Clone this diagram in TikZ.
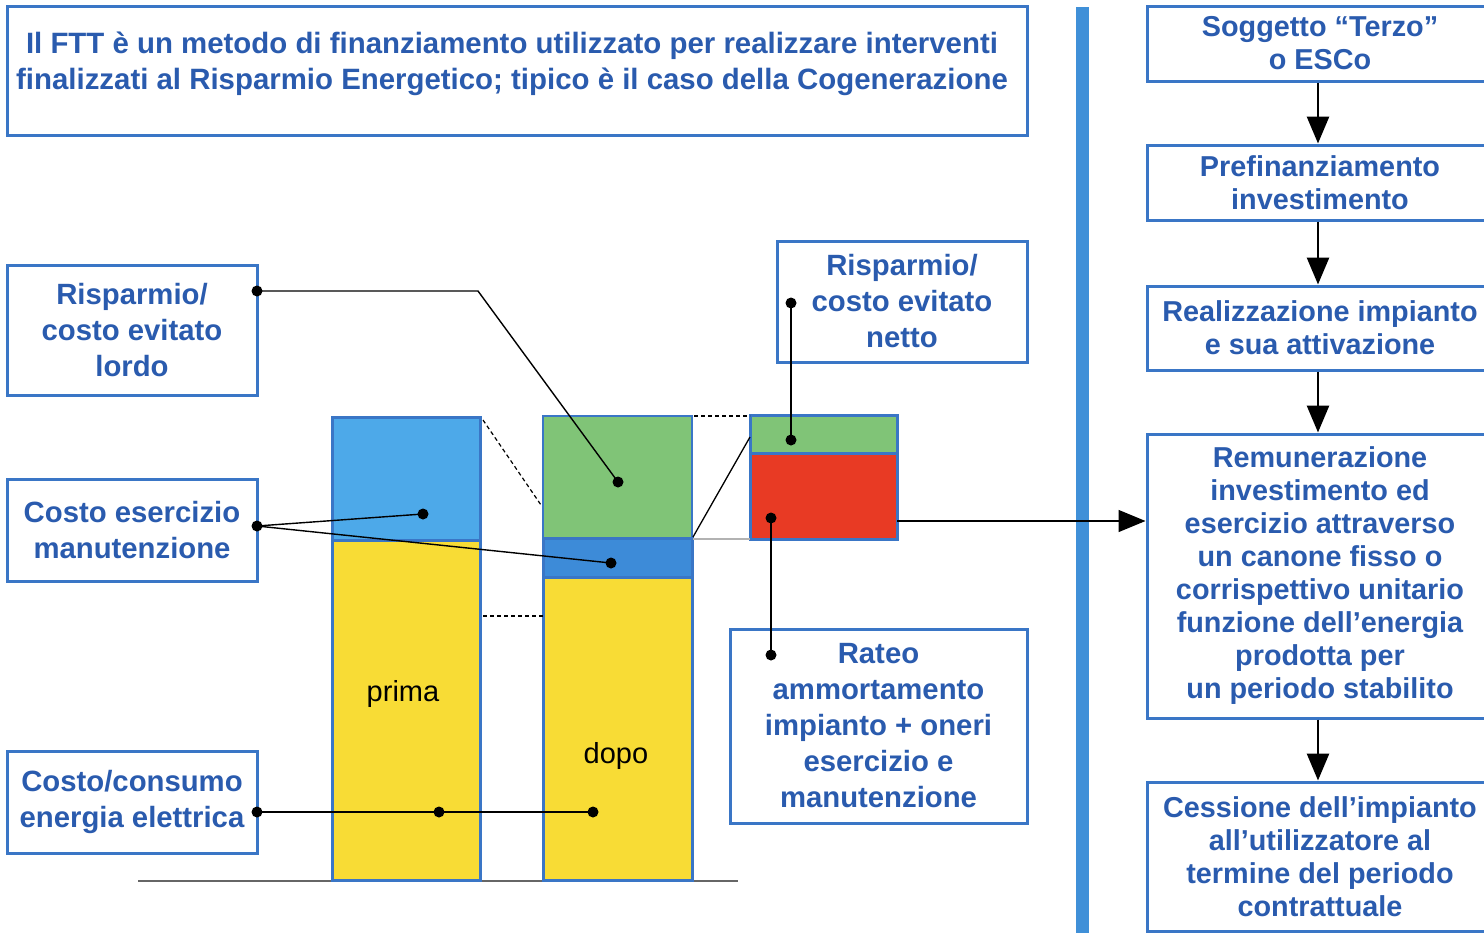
\documentclass[tikz,border=0pt]{standalone}
\usepackage{fontspec}
\setmainfont{Liberation Sans}
\usetikzlibrary{arrows.meta}
\definecolor{bordblue}{HTML}{3A76C6}
\definecolor{txtblue}{HTML}{2A5BAE}
\definecolor{barblue}{HTML}{4090D8}
\definecolor{lblue}{HTML}{4DA9E9}
\definecolor{mblue}{HTML}{3D8BD8}
\definecolor{ggreen}{HTML}{80C477}
\definecolor{rred}{HTML}{E83A24}
\definecolor{yyellow}{HTML}{F8DC35}
\begin{document}
\begin{tikzpicture}[x=1pt,y=-1pt,
  frame/.style={draw=bordblue,line width=3pt,fill=white,inner sep=0pt},
  lbox/.style={frame,font=\fontsize{29.3}{36}\selectfont\bfseries,text=txtblue,align=center},
  rbox/.style={frame,font=\fontsize{28.8}{33}\selectfont\bfseries,text=txtblue,align=center},
  ttext/.style={font=\fontsize{29.4}{36}\selectfont\bfseries,text=txtblue,align=center,inner sep=0pt},
  seg/.style={draw=bordblue,line width=3pt},
  conn/.style={black,line width=1.4pt},
  dot/.style={circle,fill=black,inner sep=0pt,minimum size=11pt},
  flow/.style={black,line width=2.8pt,-{Triangle[length=27pt,width=22pt]}},
  dashln/.style={black,line width=1.2pt,dash pattern=on 4pt off 3pt}
]
\useasboundingbox (0,0) rectangle (1484,937);

% top box
\node[frame,minimum width=1020pt,minimum height=129pt] (top) at (517,70.5) {};
\node[ttext] (toptxt) at (512,64) {Il FTT è un metodo di finanziamento utilizzato per realizzare interventi\\finalizzati al Risparmio Energetico; tipico è il caso della Cogenerazione};

% separator bar
\fill[barblue] (1076,7) rectangle (1089,933);

% right flow boxes
\node[rbox,minimum width=346pt,minimum height=75pt] (r1) at (1320,43.5) {Soggetto “Terzo”\\o ESCo};
\node[rbox,minimum width=346pt,minimum height=75pt] (r2) at (1320,182.5) {Prefinanziamento\\investimento};
\node[rbox,minimum width=346pt,minimum height=84pt] (r3) at (1320,328) {Realizzazione impianto\\e sua attivazione};
\node[rbox,minimum width=346pt,minimum height=284pt] (r4) at (1320,576) {Remunerazione\\investimento ed\\esercizio attraverso\\un canone fisso o\\corrispettivo unitario\\funzione dell’energia\\prodotta per\\un periodo stabilito};
\node[rbox,minimum width=346pt,minimum height=149pt] (r5) at (1320,856.5) {Cessione dell’impianto\\all’utilizzatore al\\termine del periodo\\contrattuale};
\draw[flow] (r1.south -| 1318,0) -- (r2.north -| 1318,0);
\draw[flow] (r2.south -| 1318,0) -- (r3.north -| 1318,0);
\draw[flow] (r3.south -| 1318,0) -- (r4.north -| 1318,0);
\draw[flow] (r4.south -| 1318,0) -- (r5.north -| 1318,0);

% left label boxes
\node[lbox,minimum width=250pt,minimum height=130pt] (lordo) at (132,330) {Risparmio/\\costo evitato\\lordo};
\node[lbox,minimum width=250pt,minimum height=102pt] (eserc) at (132,530) {Costo esercizio\\manutenzione};
\node[lbox,minimum width=250pt,minimum height=102pt] (energ) at (132,802) {Costo/consumo\\energia elettrica};
\node[lbox,minimum width=250pt,minimum height=121pt] (netto) at (902,301.5) {Risparmio/\\costo evitato\\netto};
\node[lbox,minimum width=297pt,minimum height=194pt] (rateo) at (878.5,726) {Rateo\\ammortamento\\impianto + oneri\\esercizio e\\manutenzione};

% baseline
\draw[gray!80!black,line width=1.4pt] (138,881) -- (738,881);

% bar prima
\path[fill=yyellow,seg] (332,540) rectangle (480,880);
\path[fill=lblue,seg] (332,417) rectangle (480,540);
\node[font=\fontsize{29}{30}\selectfont,inner sep=0pt] (prima) at (403,694) {prima};
% bar dopo
\path[fill=yyellow,seg] (543,577) rectangle (692,880);
\path[fill=mblue,seg] (543,538) rectangle (692,577);
\path[fill=ggreen,draw=bordblue,line width=1.2pt] (543,416) rectangle (692,538);
\node[font=\fontsize{29}{30}\selectfont,inner sep=0pt] (dopo) at (616,756) {dopo};
% net bar
\path[fill=rred,seg] (750,453) rectangle (897,539);
\path[fill=ggreen,seg] (750,415) rectangle (897,453);

% dashed guides
\draw[dashln] (483,420) -- (541,505);
\draw[dashln] (483,616) -- (543,616);
\draw[dashln] (694,416) -- (750,416);
\draw[black,line width=1.3pt] (693,537) -- (750,437);
\draw[gray!60,line width=1.6pt] (693,539) -- (750,539);

% dots and connectors
\coordinate (a0) at (257,291);
\coordinate (a1) at (478,291);
\node[dot] (a2) at (618,482) {};
\node[dot] at (a0) {};
\draw[conn] (a0) -- (a1) -- (a2.center);

\node[dot] (b0) at (257,526) {};
\node[dot] (b1) at (423,514) {};
\node[dot] (b2) at (611,563) {};
\draw[conn] (b0.center) -- (b1.center);
\draw[conn] (b0.center) -- (b2.center);

\node[dot] (c0) at (257,812) {};
\node[dot] (c1) at (439,812) {};
\node[dot] (c2) at (593,812) {};
\draw[conn] (c0.center) -- (c2.center);

\node[dot] (n0) at (791,303) {};
\node[dot] (n1) at (791,440) {};
\draw[conn] (n0.center) -- (n1.center);

\node[dot] (m0) at (771,518) {};
\node[dot] (m1) at (771,655) {};
\draw[conn] (m0.center) -- (m1.center);

% arrow to remunerazione
\draw[black,line width=1.4pt,-{Triangle[length=27pt,width=22pt]}] (897,521) -- (r4.west |- 0,521);
\end{tikzpicture}
\end{document}
